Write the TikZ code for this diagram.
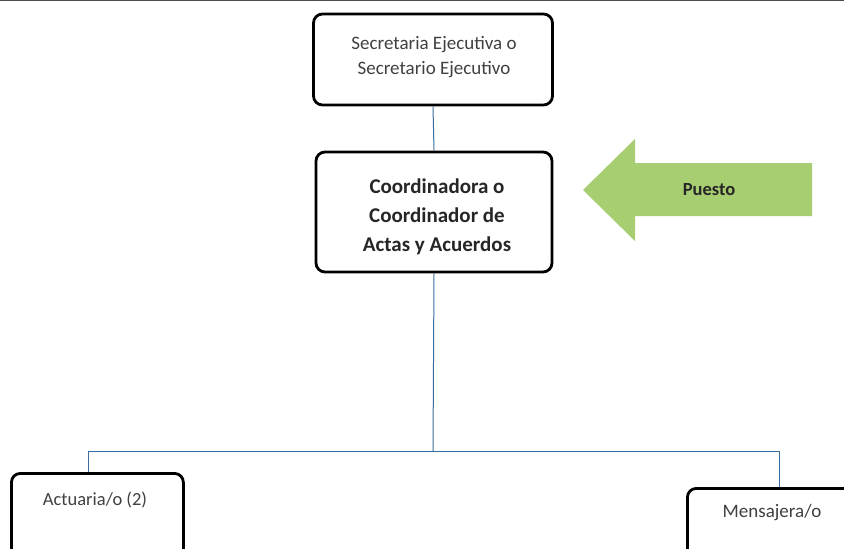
\documentclass[tikz,border=0pt]{standalone}
\usepackage{fontspec}
\setmainfont{Carlito}
\definecolor{txt}{HTML}{404040}
\definecolor{conn}{HTML}{3A6E9E}
\definecolor{arrowgreen}{HTML}{A8CE72}
\begin{document}
\begin{tikzpicture}[x=1pt,y=-1pt,
  box/.style={draw=black,line width=2.8pt,rounded corners=9pt,fill=white},
  conn/.style={draw=conn,line width=1pt},
  lbl/.style={text=txt,font=\fontsize{19}{25}\selectfont,align=center},
  lblb/.style={text=txt,font=\fontsize{18.5}{22}\selectfont},
  bold/.style={text=black!85,font=\bfseries\fontsize{21}{29}\selectfont,align=center}]
\useasboundingbox (0,0) rectangle (844,549);
\clip (0,0) rectangle (844,549);
\fill[white] (0,0) rectangle (844,549);
\draw[black!70,line width=2pt] (0,0) -- (844,0);
\coordinate (bar) at (433,451);
\coordinate (barL) at (88,451);
\coordinate (barR) at (779,451);
% boxes
\node[box,minimum width=239pt,minimum height=91pt] (sec) at (433,59.5) {};
\node[lbl] (sect) at (434,57) {Secretaria Ejecutiva o\\Secretario Ejecutivo};
\node[box,minimum width=236pt,minimum height=120pt] (coo) at (434,212) {};
\node[bold] (coot) at (437,217) {Coordinadora o\\Coordinador de\\Actas y Acuerdos};
\node[box,minimum width=172pt,minimum height=100pt,anchor=north west] (act) at (10,472) {};
\node[lblb] (actt) at (95,500) {Actuaria/o (2)};
\node[box,minimum width=170pt,minimum height=100pt,anchor=north west] (men) at (686,487) {};
\node[lblb,font=\fontsize{19}{22}\selectfont] (ment) at (772,513) {Mensajera/o};
% connectors
\draw[conn] (sec.south) -- (coo.north);
\draw[conn] (coo.south) -- (bar);
\draw[conn] (barL) -- (barR);
\draw[conn] (barL) -- (barL |- act.north);
\draw[conn] (barR) -- (barR |- men.north);
% arrow
\fill[arrowgreen] (583,190) -- (635,139) -- (635,163) -- (812,163) -- (812,216) -- (635,216) -- (635,241) -- cycle;
\node[text=black!85,font=\bfseries\fontsize{18.5}{22}\selectfont] (puesto) at (709,190) {Puesto};
\end{tikzpicture}
\end{document}
